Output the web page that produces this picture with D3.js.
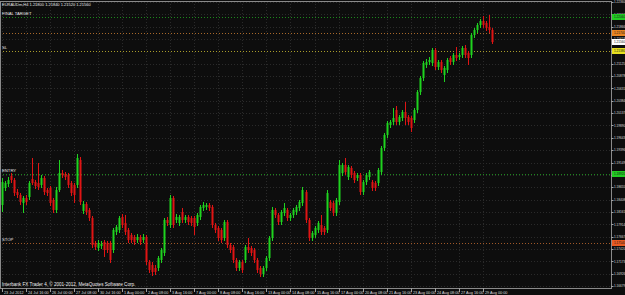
<!DOCTYPE html>
<html>
<head>
<meta charset="utf-8">
<script src="https://cdn.jsdelivr.net/npm/d3@7"></script>
<style>
  html, body { margin: 0; padding: 0; background: #0b0b0b; }
  svg { display: block; }
  text { font-family: "Liberation Sans", Arial, sans-serif; }
</style>
</head>
<body>
<svg id="chart" width="625" height="295"></svg>
<script>
// EURAUDm H4 candles (23 Jul 2012 08:00 .. 29 Aug 2012 12:00)
const opens = [1.1830,1.1864,1.1872,1.1888,1.1880,1.1856,1.1850,1.1834,1.1844,1.1846,
  1.1882,1.1876,1.1874,1.1870,1.1884,1.1860,1.1864,1.1840,1.1820,1.1860,
  1.1894,1.1892,1.1890,1.1874,1.1870,1.1870,1.1920,1.1818,1.1832,1.1820,
  1.1804,1.1754,1.1744,1.1748,1.1756,1.1754,1.1754,1.1740,1.1776,1.1780,
  1.1806,1.1794,1.1780,1.1770,1.1766,1.1760,1.1766,1.1760,1.1766,1.1716,
  1.1710,1.1704,1.1704,1.1720,1.1734,1.1800,1.1790,1.1844,1.1800,1.1794,
  1.1816,1.1800,1.1806,1.1804,1.1804,1.1794,1.1806,1.1824,1.1826,1.1830,
  1.1826,1.1790,1.1784,1.1780,1.1764,1.1796,1.1750,1.1746,1.1720,1.1704,
  1.1716,1.1720,1.1746,1.1744,1.1740,1.1720,1.1704,1.1692,1.1704,1.1724,
  1.1764,1.1820,1.1810,1.1796,1.1814,1.1820,1.1804,1.1810,1.1816,1.1824,
  1.1834,1.1856,1.1800,1.1764,1.1770,1.1780,1.1790,1.1784,1.1780,1.1836,
  1.1834,1.1814,1.1836,1.1894,1.1910,1.1886,1.1904,1.1894,1.1884,1.1890,
  1.1856,1.1876,1.1886,1.1876,1.1874,1.1874,1.1896,1.1944,1.1970,1.1990,
  1.1996,1.2020,1.1996,1.2004,1.2016,1.2006,1.2004,1.2000,1.2020,1.2056,
  1.2084,1.2110,1.2116,1.2114,1.2140,1.2106,1.2116,1.2090,1.2100,1.2124,
  1.2116,1.2130,1.2126,1.2130,1.2144,1.2134,1.2130,1.2170,1.2180,1.2190,
  1.2198,1.2194,1.2186,1.2180];
const highs = [1.1884,1.1878,1.1886,1.1894,1.1884,1.1862,1.1854,1.1848,1.1850,1.1878,
  1.1924,1.1880,1.1914,1.1890,1.1888,1.1864,1.1868,1.1844,1.1866,1.1920,
  1.1900,1.1896,1.1894,1.1878,1.1874,1.1932,1.1926,1.1838,1.1836,1.1824,
  1.1808,1.1758,1.1760,1.1758,1.1760,1.1758,1.1758,1.1784,1.1790,1.1808,
  1.1812,1.1810,1.1784,1.1774,1.1770,1.1772,1.1770,1.1772,1.1770,1.1720,
  1.1716,1.1710,1.1728,1.1744,1.1804,1.1806,1.1850,1.1848,1.1812,1.1810,
  1.1824,1.1810,1.1810,1.1808,1.1808,1.1814,1.1830,1.1836,1.1834,1.1834,
  1.1830,1.1794,1.1788,1.1784,1.1800,1.1800,1.1754,1.1750,1.1724,1.1720,
  1.1720,1.1750,1.1764,1.1748,1.1744,1.1724,1.1708,1.1708,1.1728,1.1768,
  1.1826,1.1824,1.1814,1.1820,1.1834,1.1824,1.1814,1.1824,1.1830,1.1840,
  1.1866,1.1860,1.1804,1.1778,1.1788,1.1798,1.1810,1.1788,1.1860,1.1840,
  1.1838,1.1844,1.1920,1.1914,1.1924,1.1910,1.1908,1.1898,1.1894,1.1894,
  1.1880,1.1894,1.1900,1.1880,1.1878,1.1904,1.1948,1.1974,1.1998,1.2000,
  1.2024,1.2028,1.2010,1.2020,1.2036,1.2010,1.2008,1.2024,1.2060,1.2088,
  1.2118,1.2122,1.2126,1.2144,1.2144,1.2120,1.2120,1.2108,1.2124,1.2128,
  1.2134,1.2146,1.2134,1.2148,1.2150,1.2138,1.2174,1.2184,1.2194,1.2202,
  1.2208,1.2198,1.2210,1.2184];
const lows = [1.1816,1.1858,1.1866,1.1874,1.1848,1.1844,1.1830,1.1814,1.1830,1.1840,
  1.1870,1.1862,1.1860,1.1864,1.1850,1.1848,1.1828,1.1814,1.1814,1.1856,
  1.1884,1.1880,1.1864,1.1848,1.1834,1.1864,1.1830,1.1812,1.1810,1.1798,
  1.1744,1.1740,1.1738,1.1742,1.1726,1.1734,1.1714,1.1734,1.1770,1.1774,
  1.1784,1.1770,1.1754,1.1754,1.1750,1.1754,1.1750,1.1754,1.1710,1.1694,
  1.1688,1.1690,1.1698,1.1714,1.1728,1.1788,1.1784,1.1784,1.1794,1.1788,
  1.1794,1.1794,1.1790,1.1788,1.1770,1.1788,1.1800,1.1818,1.1820,1.1818,
  1.1784,1.1774,1.1758,1.1754,1.1758,1.1744,1.1734,1.1714,1.1698,1.1698,
  1.1694,1.1714,1.1734,1.1728,1.1714,1.1694,1.1686,1.1686,1.1698,1.1718,
  1.1758,1.1804,1.1790,1.1790,1.1808,1.1798,1.1798,1.1804,1.1810,1.1818,
  1.1828,1.1794,1.1758,1.1758,1.1764,1.1774,1.1770,1.1770,1.1774,1.1818,
  1.1808,1.1808,1.1830,1.1888,1.1890,1.1880,1.1884,1.1874,1.1878,1.1850,
  1.1850,1.1870,1.1880,1.1858,1.1858,1.1868,1.1890,1.1938,1.1964,1.1984,
  1.1990,1.1990,1.1990,1.1998,1.1990,1.1990,1.1976,1.1994,1.2014,1.2050,
  1.2078,1.2104,1.2110,1.2108,1.2100,1.2100,1.2094,1.2076,1.2094,1.2110,
  1.2110,1.2118,1.2120,1.2124,1.2124,1.2110,1.2124,1.2164,1.2174,1.2184,
  1.2184,1.2178,1.2174,1.2152];
const closes = [1.1876,1.1874,1.1880,1.1880,1.1854,1.1850,1.1836,1.1844,1.1836,1.1874,
  1.1874,1.1868,1.1866,1.1884,1.1856,1.1854,1.1834,1.1820,1.1860,1.1894,
  1.1890,1.1886,1.1870,1.1854,1.1850,1.1924,1.1836,1.1832,1.1816,1.1804,
  1.1750,1.1746,1.1754,1.1752,1.1740,1.1740,1.1720,1.1780,1.1786,1.1804,
  1.1790,1.1776,1.1760,1.1760,1.1756,1.1766,1.1756,1.1766,1.1716,1.1700,
  1.1696,1.1696,1.1724,1.1740,1.1800,1.1794,1.1844,1.1790,1.1806,1.1806,
  1.1800,1.1806,1.1796,1.1794,1.1786,1.1810,1.1826,1.1830,1.1830,1.1824,
  1.1790,1.1780,1.1764,1.1760,1.1796,1.1750,1.1740,1.1720,1.1704,1.1716,
  1.1700,1.1746,1.1740,1.1734,1.1720,1.1700,1.1692,1.1704,1.1724,1.1764,
  1.1820,1.1810,1.1796,1.1816,1.1824,1.1804,1.1810,1.1820,1.1826,1.1836,
  1.1860,1.1800,1.1764,1.1774,1.1784,1.1794,1.1776,1.1776,1.1854,1.1824,
  1.1814,1.1840,1.1910,1.1910,1.1896,1.1906,1.1890,1.1880,1.1890,1.1856,
  1.1876,1.1890,1.1896,1.1864,1.1864,1.1900,1.1944,1.1970,1.1994,1.1996,
  1.2004,1.1996,1.2006,1.2016,1.2004,1.1996,1.1984,1.2020,1.2056,1.2084,
  1.2114,1.2116,1.2120,1.2140,1.2106,1.2116,1.2100,1.2104,1.2120,1.2116,
  1.2130,1.2124,1.2130,1.2144,1.2130,1.2124,1.2170,1.2180,1.2190,1.2198,
  1.2190,1.2184,1.2180,1.2156];

// one label every 8 bars
const timeLabels = ["23 Jul 2012","24 Jul 16:00","26 Jul 00:00","27 Jul 08:00","30 Jul 16:00",
  "1 Aug 00:00","2 Aug 08:00","3 Aug 16:00","7 Aug 00:00","8 Aug 08:00","9 Aug 16:00",
  "13 Aug 00:00","14 Aug 08:00","15 Aug 16:00","17 Aug 00:00","20 Aug 08:00","21 Aug 16:00",
  "23 Aug 00:00","24 Aug 08:00","27 Aug 16:00","29 Aug 00:00"];
const priceTicks = [1.22360,1.22113,1.21866,1.21619,1.21372,1.21125,1.20878,1.20631,
  1.20384,1.20137,1.19890,1.19643,1.19396,1.19149,1.18902,1.18655,1.18408,1.18161,
  1.17914,1.17667,1.17420,1.17173,1.16926,1.16679];

// horizontal levels
const levelNames  = ["FINAL TARGET", "", "SL", "ENTRY", "STOP"];
const levelPrices = [1.2206, 1.2174, 1.2138, 1.1892, 1.1754];
const lastPrice = 1.2156;

const W = 625, H = 295;
const area = { left: 0, top: 1, right: 611, bottom: 288 };
const svg = d3.select("#chart");

const x = d3.scaleLinear().domain([0, 202]).range([1.5, 609.5]);
const y = d3.scaleLinear().domain([1.1664, 1.2240]).range([288, 0]);

const bars = opens.map((o, i) => ({ i, o, h: highs[i], l: lows[i], c: closes[i] }));

svg.append("rect").attr("width", W).attr("height", H).attr("fill", "#0d0d0d");

// grid
const grid = svg.append("g").attr("stroke", "#2a2a2a").attr("stroke-dasharray", "1,2");
grid.selectAll("line.h").data(priceTicks).enter().append("line")
  .attr("x1", area.left).attr("x2", area.right)
  .attr("y1", d => Math.round(y(d)) + 0.5).attr("y2", d => Math.round(y(d)) + 0.5);
grid.selectAll("line.v").data(timeLabels).enter().append("line")
  .attr("x1", (d, k) => Math.round(x(k * 8)) + 0.5).attr("x2", (d, k) => Math.round(x(k * 8)) + 0.5)
  .attr("y1", area.top).attr("y2", area.bottom);

// level lines
const levelColors = ["#1c8a1c", "#a8682a", "#a89c2a", "#1c8a1c", "#a05828"];
svg.append("g").selectAll("line").data(levelPrices).enter().append("line")
  .attr("x1", area.left).attr("x2", area.right)
  .attr("y1", d => Math.round(y(d)) + 0.5).attr("y2", d => Math.round(y(d)) + 0.5)
  .attr("stroke", (d, i) => levelColors[i])
  .attr("stroke-dasharray", "1,2");

svg.append("g").selectAll("text").data(levelNames).enter().append("text")
  .attr("x", 2).attr("y", (d, i) => y(levelPrices[i]) - 2)
  .attr("fill", "#e8e8e8").attr("font-size", 4.2)
  .text(d => d);

// candles
const up = "#1fd31f", down = "#e01414";
const candles = svg.append("g");
candles.selectAll("line").data(bars).enter().append("line")
  .attr("x1", d => Math.round(x(d.i)) + 0.5).attr("x2", d => Math.round(x(d.i)) + 0.5)
  .attr("y1", d => y(d.h)).attr("y2", d => y(d.l))
  .attr("stroke", d => d.c >= d.o ? up : down).attr("stroke-width", 1);
candles.selectAll("rect").data(bars).enter().append("rect")
  .attr("x", d => Math.round(x(d.i)) - 0.5)
  .attr("width", 2)
  .attr("y", d => y(Math.max(d.o, d.c)))
  .attr("height", d => Math.max(1, Math.abs(y(d.o) - y(d.c))))
  .attr("fill", d => d.c >= d.o ? up : down);

// frame
svg.append("rect")
  .attr("x", area.left + 0.5).attr("y", area.top + 0.5)
  .attr("width", area.right - area.left).attr("height", area.bottom - area.top)
  .attr("fill", "none").attr("stroke", "#8a8a8a");

// price axis
const pAxis = svg.append("g");
pAxis.selectAll("line").data(priceTicks).enter().append("line")
  .attr("x1", area.right).attr("x2", area.right + 2.5)
  .attr("y1", d => Math.round(y(d)) + 0.5).attr("y2", d => Math.round(y(d)) + 0.5)
  .attr("stroke", "#a0a0a0");
pAxis.selectAll("text").data(priceTicks).enter().append("text")
  .attr("x", area.right + 3).attr("y", d => y(d) + 1.2)
  .attr("fill", "#dcdcdc").attr("font-size", 3.1)
  .text(d => d.toFixed(5));

// highlighted price labels
const tagPrices = levelPrices.concat([lastPrice]);
const tagColors = ["#22cc22", "#e88422", "#e8e020", "#22cc22", "#e85a22", "#ffffff"];
const tags = svg.append("g").selectAll("g").data(tagPrices).enter().append("g");
tags.append("rect")
  .attr("x", area.right + 1).attr("y", d => y(d) - 3)
  .attr("width", W - area.right - 1).attr("height", 6)
  .attr("fill", (d, i) => tagColors[i]);
tags.append("text")
  .attr("x", area.right + 3).attr("y", d => y(d) + 1.2)
  .attr("fill", "#1a1a1a").attr("font-size", 3.1)
  .text(d => d.toFixed(5));

// time axis
const tAxis = svg.append("g");
tAxis.selectAll("line").data(timeLabels).enter().append("line")
  .attr("x1", (d, k) => Math.round(x(k * 8)) + 0.5).attr("x2", (d, k) => Math.round(x(k * 8)) + 0.5)
  .attr("y1", area.bottom).attr("y2", area.bottom + 4)
  .attr("stroke", "#a0a0a0");
tAxis.selectAll("text").data(timeLabels).enter().append("text")
  .attr("x", (d, k) => Math.round(x(k * 8)) + 2).attr("y", 293.5)
  .attr("fill", "#dcdcdc").attr("font-size", 3.8)
  .text(d => d);

// title and copyright
svg.append("text").attr("x", 2).attr("y", 5.5)
  .attr("fill", "#e8e8e8").attr("font-size", 4)
  .text("EURAUDm,H4  1.21800 1.21840 1.21520 1.21560");
svg.append("text").attr("x", 2).attr("y", 286)
  .attr("fill", "#f0f0f0").attr("font-size", 4.6)
  .text("Interbank FX Trader 4, \u00a9 2001-2012, MetaQuotes Software Corp.");
</script>
</body>
</html>
